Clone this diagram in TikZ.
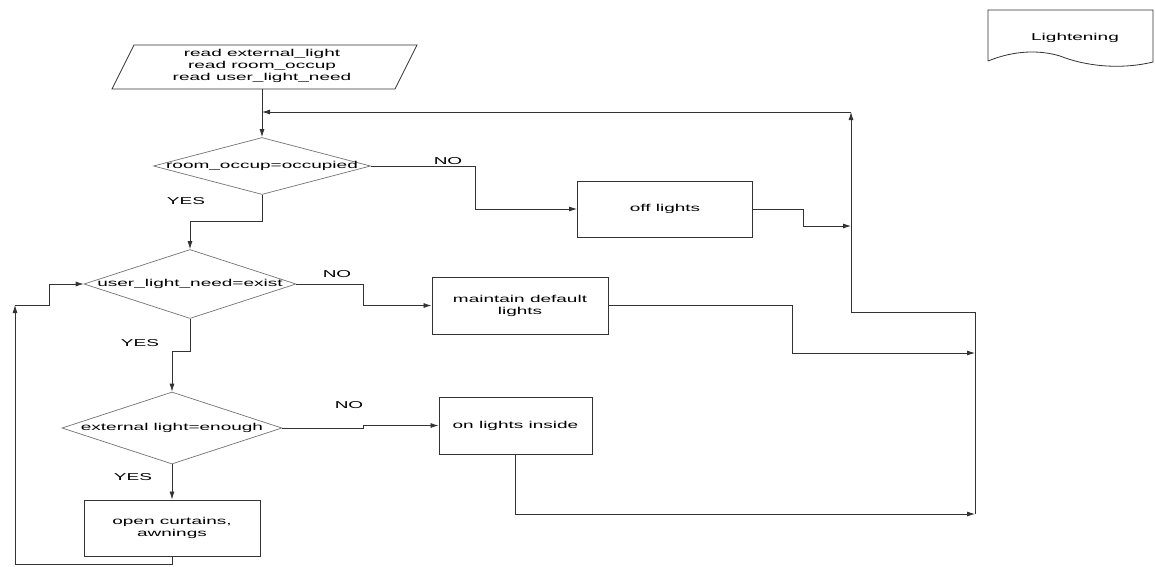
\documentclass[tikz,border=0pt]{standalone}
\usepackage{fontspec}
\newfontfamily\chartfont[FakeStretch=1.9]{Liberation Sans}
\usetikzlibrary{shapes.geometric,arrows.meta}
\begin{document}
\begin{tikzpicture}[x=1pt,y=-1pt,
  line/.style={draw=black!80,line width=0.8pt},
  arr/.style={line,-{Latex[length=8pt,width=5pt]}},
  txt/.style={font=\chartfont\fontsize{10}{12}\selectfont,align=center,inner sep=0pt},
  box/.style={draw=black!80,line width=0.9pt,minimum width=#1,minimum height=56pt,inner sep=0pt,txt},
  box/.default=176pt,
  decision/.style 2 args={diamond,draw=black!55,line width=0.7pt,minimum width=#1,minimum height=#2,inner sep=0pt}]
\useasboundingbox (0,0) rectangle (1155,566);
\draw[line] (134,45)--(417,45)--(395,89)--(112,89)--cycle;
\node[txt] (input) at (262,66) {read external\_light\\read room\_occup\\read user\_light\_need};
\node[decision={217pt}{57pt}] (d1) at (262,166) {};
\node[txt] at (d1) {room\_occup=occupied};
\node[decision={212pt}{69pt}] (d2) at (190,284) {};
\node[txt] at (d2) {user\_light\_need=exist};
\node[decision={220pt}{72pt}] (d3) at (172,428) {};
\node[txt] at (d3) {external light=enough};
\node[box=175pt] (off) at (665,209) {off lights};
\node[box,minimum height=57pt] (maint) at (520,305.5) {maintain default\\lights};
\node[box=153pt,minimum height=57pt] (onin) at (515.5,425.5) {on lights inside};
\node[box] (opn) at (172,528) {open curtains,\\awnings};
\node[txt] (no1) at (448,161) {NO};
\node[txt] (no2) at (337,274) {NO};
\node[txt] (no3) at (349,405) {NO};
\node[txt] (yes1) at (186,201) {YES};
\node[txt] (yes2) at (140,343) {YES};
\node[txt] (yes3) at (133,477) {YES};
\draw[line] (988,61)--(988,10)--(1153,10)--(1153,62) .. controls (1120,70) and (1085,66) .. (1060,56) .. controls (1040,50) and (1015,50) .. (988,61);
\node[txt] (legend) at (1075,38) {Lightening};
\coordinate (inbot) at (262,89);
\coordinate (ent) at (262,112);
\coordinate (ja) at (851,112);
\coordinate (ka) at (851,226);
\coordinate (jb) at (851,312);
\coordinate (jc) at (975,312);
\coordinate (kb) at (975,353);
\coordinate (jd) at (975,514);
\coordinate (lp) at (15,305);
\draw[arr] (inbot)--(d1.north);
\draw[line] (jd)--(jc)--(jb);
\draw[arr] (jb)--(ja);
\draw[arr] (ja)--(ent);
\draw[arr] (d1.east)--++(105,0) |- (off.west);
\draw[arr] (d1.south)--++(0,27) -| (d2.north);
\draw[arr] (off.east)--++(50,0) |- (ka);
\draw[arr] (d2.east)--++(67,0) |- (maint.west);
\draw[arr] (maint.east)--++(184,0) |- (kb);
\draw[arr] (d2.south)--++(0,33) -| (d3.north);
\draw[arr] (d3.east)--++(81,0) |- (onin.west);
\draw[arr] (onin.south) |- (jd);
\draw[arr] (d3.south)--(opn.north);
\draw[arr] (opn.south)--++(0,8) -| (lp);
\draw[arr] (lp)--++(34,0) |- (d2.west);
\end{tikzpicture}
\end{document}
